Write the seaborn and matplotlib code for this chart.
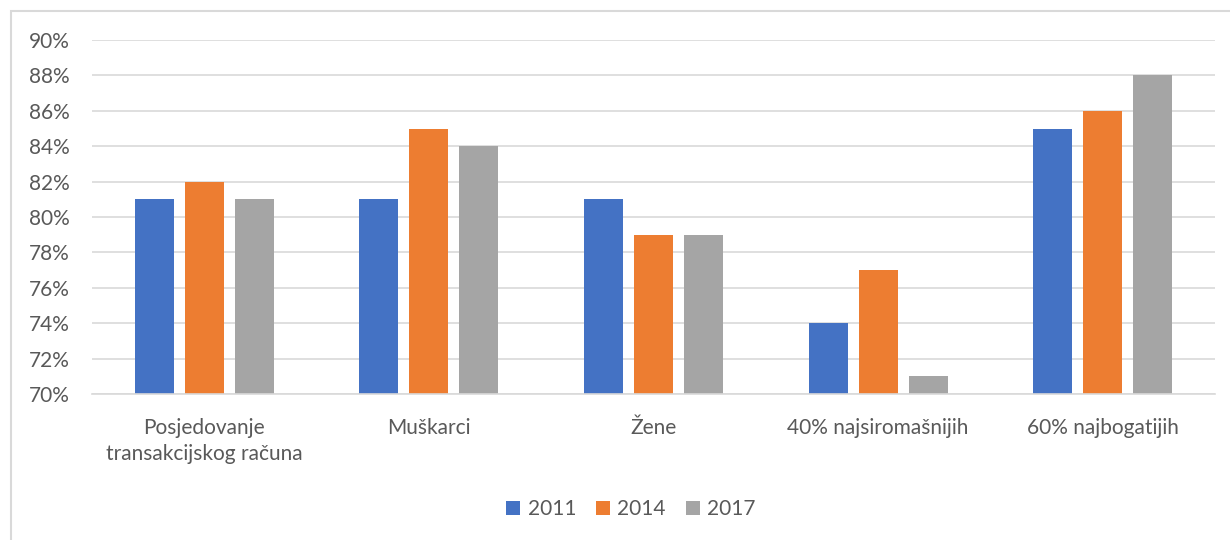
import pandas as pd
import matplotlib
matplotlib.use("Agg")
import matplotlib.pyplot as plt
import seaborn as sns
from matplotlib.ticker import FuncFormatter, MultipleLocator
from matplotlib.patches import Rectangle

categories = ["Posjedovanje\ntransakcijskog računa", "Muškarci", "Žene",
              "40% najsiromašnijih", "60% najbogatijih"]
years = ["2011", "2014", "2017"]
vals_2011 = [81, 81, 81, 74, 85]
vals_2014 = [82, 85, 79, 77, 86]
vals_2017 = [81, 84, 79, 71, 88]
colors = ["#4472C4", "#ED7D31", "#A5A5A5"]

df = pd.DataFrame({
    "kategorija": categories * 3,
    "godina": [y for y in years for _ in categories],
    "vrijednost": vals_2011 + vals_2014 + vals_2017,
})

sns.set_style("white")
plt.rcParams["font.family"] = ["Lato", "DejaVu Sans"]
txt = "#595959"
fs = 15

fig = plt.figure(figsize=(12.3, 5.4), dpi=100)
ax = fig.add_axes([92 / 1230, 1 - 394 / 540, 1123 / 1230, 354 / 540])

sns.barplot(data=df, x="kategorija", y="vrijednost", hue="godina",
            palette=colors, width=0.668, gap=0.22, saturation=1,
            linewidth=0, ax=ax, legend=True)

ax.set_ylim(70, 90)
ax.yaxis.set_major_locator(MultipleLocator(2))
ax.yaxis.set_major_formatter(FuncFormatter(lambda v, p: f"{v:.0f}%"))
ax.grid(axis="y", color="#D9D9D9", linewidth=1.2)
ax.set_axisbelow(True)
for s in ["top", "right", "left"]:
    ax.spines[s].set_visible(False)
ax.spines["bottom"].set_color("#D9D9D9")
ax.spines["bottom"].set_linewidth(1.2)
ax.set_xlabel("")
ax.set_ylabel("")
ax.tick_params(axis="both", length=0, labelsize=fs, colors=txt)
ax.tick_params(axis="x", pad=17)
ax.tick_params(axis="y", pad=16)
for lab in ax.get_xticklabels():
    lab.set_linespacing(1.4)

ax.legend(loc="center", bbox_to_anchor=(631 / 1230, 1 - 509 / 540), bbox_transform=fig.transFigure,
          ncol=3, frameon=False, fontsize=fs, labelcolor=txt,
          handlelength=0.68, handleheight=0.68, handletextpad=0.35, columnspacing=0.95)

fig.patches.append(Rectangle((11 / 1230, -0.05), 1.2, 1 - 11 / 540 + 0.05,
                             transform=fig.transFigure, fill=False,
                             edgecolor="#D9D9D9", linewidth=1.5))

fig.savefig("out.png", dpi=100)
